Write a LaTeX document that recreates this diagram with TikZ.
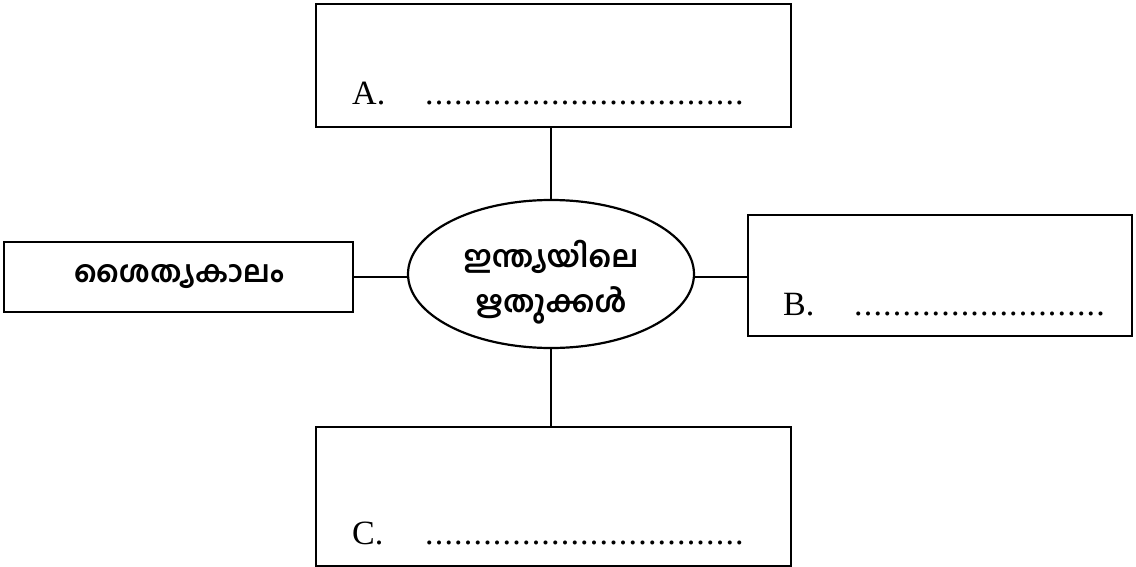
\documentclass[tikz,border=0pt]{standalone}
\usepackage{fontspec}
\setmainfont{Liberation Serif}
\newfontfamily\mal[Script=Malayalam]{Hind Kochi}
\usetikzlibrary{shapes.geometric}
\tikzset{
  box/.style={draw, line width=2.2pt, rectangle, inner sep=0pt},
  conn/.style={line width=2.2pt},
  lbl/.style={anchor=base west, inner sep=0pt, font=\fontsize{34}{40}\selectfont},
  dotsl/.style={anchor=base west, inner sep=0pt, font=\fontsize{34}{40}\selectfont\addfontfeature{LetterSpace=3.5}},
  mtext/.style={font=\mal\bfseries\fontsize{30}{45}\selectfont, align=center, inner sep=0pt}
}
\begin{document}
\begin{tikzpicture}[x=1pt,y=-1pt]
\useasboundingbox (0,0) rectangle (1136,567);
% boxes
\node[box, minimum width=475pt, minimum height=123pt] (A) at (553.5,65.5) {};
\node[box, minimum width=349pt, minimum height=70pt] (L) at (178.5,277) {};
\node[box, minimum width=384pt, minimum height=121pt] (B) at (940,275.5) {};
\node[box, minimum width=475pt, minimum height=139pt] (C) at (553.5,496.5) {};
\node[draw, ellipse, line width=2.2pt, minimum width=286pt, minimum height=148pt, inner sep=0pt] (E) at (551,274) {};
% texts
\node[mtext] (Lt) at (179,277) {ശൈത്യകാലം};
\node[mtext] (Et) at (551,282) {ഇന്ത്യയിലെ\\ഋതുക്കൾ};
\node[lbl] (At) at (352,105) {A.};
\node[dotsl] (Ad) at (425,105) {.................................};
\node[lbl] (Bt) at (783,315) {B.};
\node[dotsl] (Bd) at (854,315) {..........................};
\node[lbl] (Ct) at (352,544) {C.};
\node[dotsl] (Cd) at (425,544) {.................................};
% connectors
\draw[conn] (A.south -| E.north) -- (E.north);
\draw[conn] (E.south) -- (E.south |- C.north);
\draw[conn] (L.east) -- (E.west |- L.east);
\draw[conn] (E.east |- 0,277) -- (B.west |- 0,277);
\end{tikzpicture}
\end{document}
